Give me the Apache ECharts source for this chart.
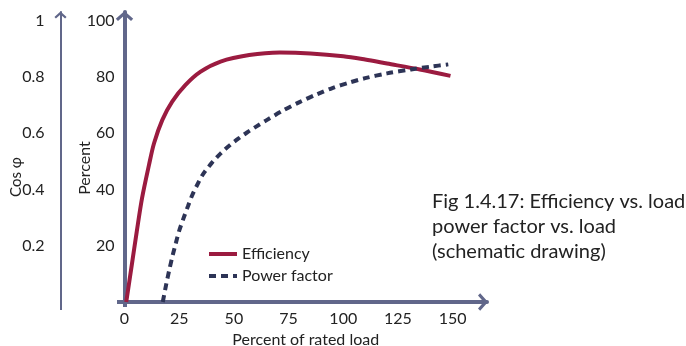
<!DOCTYPE html>
<html>
<head>
<meta charset="utf-8">
<script src="https://cdn.jsdelivr.net/npm/echarts@6/dist/echarts.min.js"></script>
<style>html,body{margin:0;padding:0;background:#fff}#c{width:686px;height:346px}</style>
</head>
<body>
<div id="c"></div>
<script>
// Load (% of rated load) vs efficiency (%)
const effLoad = [0.8, 3.3, 5.6, 8, 11.2, 13.5, 17.3, 21.8, 27.9, 34.8, 43.9, 57, 71, 85, 100, 110, 120, 135, 149];
const effVal  = [0, 13, 25, 36.8, 48.7, 56.4, 64.7, 71.2, 77.1, 81.8, 85.4, 87.7, 88.6, 88.3, 87.3, 86.1, 84.7, 82.6, 80.3];
// Load vs power factor (cos phi)
const pfLoad = [17.5, 19, 20.5, 22, 23.5, 25, 27, 29, 31, 33.5, 36, 40, 44, 48, 52, 56, 60, 65, 72, 80, 88, 95, 103, 110, 120, 131, 140, 148];
const pfVal  = [0, 0.06, 0.115, 0.165, 0.21, 0.253, 0.298, 0.34, 0.38, 0.42, 0.455, 0.495, 0.528, 0.556, 0.58, 0.602, 0.622, 0.646, 0.678, 0.71, 0.738, 0.76, 0.78, 0.795, 0.812, 0.826, 0.836, 0.844];
const xTicks = [0, 25, 50, 75, 100, 125, 150];
const pctTicks = [20, 40, 60, 80, 100];
const cosTicks = [0.2, 0.4, 0.6, 0.8, 1];
const seriesNames = ['Efficiency', 'Power factor'];
const figText = 'Fig 1.4.17: Efficiency vs. load\npower factor vs. load\n(schematic drawing)';

const FONT = 'Lato';
const AX = '#61678a';
const chevron = 'path://M0,9 L10,0 L20,9 L17.5,11.5 L10,5 L2.5,11.5 Z';

const chart = echarts.init(document.getElementById('c'), null, {renderer: 'canvas'});
chart.setOption({
  animation: false,
  textStyle: {fontFamily: FONT, color: '#222'},
  grid: {left: 124.5, right: 199, top: 12, bottom: 44, containLabel: false, outerBoundsMode: 'none'},
  xAxis: {
    type: 'value', min: 0, max: 165.7, interval: 25,
    name: 'Percent of rated load', nameLocation: 'middle', nameGap: 30, nameMoveOverlap: false,
    nameTextStyle: {fontSize: 16, color: '#222', fontFamily: FONT},
    axisLine: {show: true, onZero: false, lineStyle: {color: AX, width: 4}, symbol: ['none', chevron], symbolSize: [18, 10], symbolOffset: [0, -4]},
    axisTick: {show: false}, splitLine: {show: false},
    axisLabel: {fontSize: 16, color: '#222', margin: 9, fontFamily: FONT,
      formatter: v => xTicks.includes(v) ? String(v) : ''}
  },
  yAxis: [{
    type: 'value', min: 0, max: 103, interval: 20, position: 'left',
    name: 'Percent', nameLocation: 'middle', nameGap: 32, nameRotate: 90, nameMoveOverlap: false,
    nameTextStyle: {fontSize: 16, color: '#222', padding: [0, 22, 0, 0], fontFamily: FONT},
    axisLine: {show: true, onZero: false, lineStyle: {color: AX, width: 4}, symbol: ['none', chevron], symbolSize: [18, 10], symbolOffset: [0, -4]},
    axisTick: {show: false}, splitLine: {show: false},
    axisLabel: {fontSize: 16, color: '#222', margin: 10, fontFamily: FONT,
      formatter: v => pctTicks.includes(v) ? String(v) : ''}
  }, {
    type: 'value', min: 0, max: 1.03, interval: 0.2, position: 'left', offset: 64,
    name: 'Cos φ', nameLocation: 'middle', nameGap: 37, nameRotate: 90, nameMoveOverlap: false,
    nameTextStyle: {fontSize: 15, color: '#222', padding: [0, 40, 0, 0], fontFamily: FONT},
    axisLine: {show: true, onZero: false, lineStyle: {color: AX, width: 2}, symbol: ['none', chevron], symbolSize: [13, 7], symbolOffset: [0, -3]},
    axisTick: {show: false}, splitLine: {show: false},
    axisLabel: {fontSize: 16, color: '#222', margin: 16, fontFamily: FONT,
      formatter: v => { const r = Math.round(v * 10) / 10; return (cosTicks.includes(r) && Math.abs(v - r) < 1e-6) ? String(r) : ''; }}
  }],
  legend: {
    orient: 'vertical', left: 207, top: 246, padding: 0, itemWidth: 28, itemHeight: 14, itemGap: 6,
    itemStyle: {opacity: 0},
    lineStyle: {width: 4},
    textStyle: {fontSize: 16, color: '#222', fontFamily: FONT},
    data: seriesNames
  },
  series: [{
    name: seriesNames[0], type: 'line', yAxisIndex: 0, smooth: 0.3, showSymbol: false, symbol: 'none',
    lineStyle: {color: '#9b1b40', width: 4}, itemStyle: {color: '#9b1b40'},
    data: effLoad.map((x, i) => [x, effVal[i]])
  }, {
    name: seriesNames[1], type: 'line', yAxisIndex: 1, smooth: 0.3, showSymbol: false, symbol: 'none',
    lineStyle: {color: '#2d3456', width: 4, type: [7, 5]}, itemStyle: {color: '#2d3456'},
    data: pfLoad.map((x, i) => [x, pfVal[i]])
  }],
  graphic: [{
    type: 'text', left: 432, top: 189,
    style: {text: figText, font: '20px ' + FONT, fill: '#222', lineHeight: 25}
  }, {
    type: 'rect', shape: {x: 117, y: 300, width: 8, height: 4}, style: {fill: AX}
  }, {
    type: 'rect', shape: {x: 123, y: 302, width: 4, height: 5}, style: {fill: AX}
  }, {
    type: 'rect', shape: {x: 60, y: 302, width: 2, height: 8}, style: {fill: AX}
  }]
});
</script>
</body>
</html>
